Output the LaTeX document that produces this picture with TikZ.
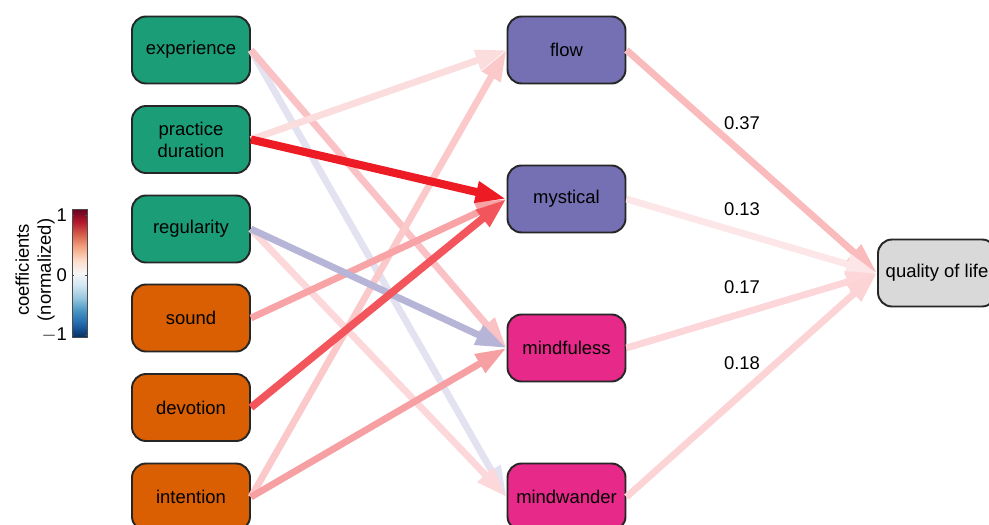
\documentclass[tikz,border=0pt]{standalone}
\usepackage{fontspec}
\setmainfont{Liberation Sans}
\usetikzlibrary{arrows.meta}

\definecolor{pracgreen}{RGB}{27,158,119}
\definecolor{ctxorange}{RGB}{217,95,2}
\definecolor{expviolet}{RGB}{117,112,179}
\definecolor{attmagenta}{RGB}{231,41,138}
\definecolor{outgray}{RGB}{217,217,217}
\definecolor{cpos}{RGB}{237,28,36}
\definecolor{cneg}{RGB}{117,112,179}
\definecolor{rdbuA}{RGB}{5,48,97}
\definecolor{rdbuB}{RGB}{33,102,172}
\definecolor{rdbuC}{RGB}{67,147,195}
\definecolor{rdbuD}{RGB}{146,197,222}
\definecolor{rdbuE}{RGB}{209,229,240}
\definecolor{rdbuF}{RGB}{247,247,247}
\definecolor{rdbuG}{RGB}{253,219,199}
\definecolor{rdbuH}{RGB}{244,165,130}
\definecolor{rdbuI}{RGB}{214,96,77}
\definecolor{rdbuJ}{RGB}{178,24,43}
\definecolor{rdbuK}{RGB}{103,0,31}
\pgfdeclareverticalshading{rdbu}{100bp}{color(0bp)=(rdbuA); color(25bp)=(rdbuA); color(30bp)=(rdbuB); color(35bp)=(rdbuC); color(40bp)=(rdbuD); color(45bp)=(rdbuE); color(50bp)=(rdbuF); color(55bp)=(rdbuG); color(60bp)=(rdbuH); color(65bp)=(rdbuI); color(70bp)=(rdbuJ); color(75bp)=(rdbuK); color(100bp)=(rdbuK)}

\begin{document}
\begin{tikzpicture}[x=0.02cm,y=-0.02cm,
  var/.style={draw=black!85,line width=1.1pt,rounded corners=0.28cm,minimum width=2.36cm,minimum height=1.34cm,align=center,inner sep=2pt,font=\fontsize{10.5}{12.5}\selectfont},
  coef/.style={line width=3.9pt,-{Triangle[length=0.62cm,width=0.4cm]}},
  weight/.style={font=\fontsize{10.5}{12}\selectfont},
  barlabel/.style={font=\fontsize{10.5}{12.5}\selectfont}]
  \useasboundingbox (0,0) rectangle (989,524);

  %colour bar
  \shade[shading=rdbu] (72,209) rectangle (87,337);
  \draw[black!70,line width=0.5pt] (72,209) rectangle (87,337);
  \foreach \ty in {215,275,335}{
    \draw[black!70,line width=0.4pt] (72,\ty) -- (74,\ty);
    \draw[black!70,line width=0.4pt] (87,\ty) -- (85,\ty);
  }
  \node[barlabel,anchor=east,inner sep=1pt] (tickhi) at (69,215) {1};
  \node[barlabel,anchor=east,inner sep=1pt] (tickmid) at (69,275) {0};
  \node[barlabel,anchor=east,inner sep=1pt] (ticklo) at (69,335) {$-$1};
  \node[barlabel,rotate=90,align=center] (bartitle) at (35,270) {coefficients\\(normalized)};

  %left
  \node[var,fill=pracgreen] (exp) at (191,50) {experience};
  \node[var,fill=pracgreen] (dur) at (191,139.5) {practice\\duration};
  \node[var,fill=pracgreen] (reg) at (191,229) {regularity};
  \node[var,fill=ctxorange] (snd) at (191,318) {sound};
  \node[var,fill=ctxorange] (dev) at (191,407.5) {devotion};
  \node[var,fill=ctxorange] (int) at (191,497) {intention};

  %middle
  \node[var,fill=expviolet] (flow) at (566.5,50) {flow};
  \node[var,fill=expviolet] (myst) at (566.5,199) {mystical};
  \node[var,fill=attmagenta] (mind) at (566.5,348) {mindfuless};
  \node[var,fill=attmagenta] (wand) at (566.5,497) {mindwander};

  %right
  \node[var,fill=outgray] (qol) at (937,273) {quality of life};

  %left to middle
  \draw[coef,draw=cneg!20,fill=cneg!20] (exp.east) -- (wand.west);
  \draw[coef,draw=cpos!17,fill=cpos!17] (reg.east) -- (wand.west);
  \draw[coef,draw=cpos!27,fill=cpos!27] (exp.east) -- (mind.west);
  \draw[coef,draw=cpos!15,fill=cpos!15] (dur.east) -- (flow.west);
  \draw[coef,draw=cpos!24,fill=cpos!24] (int.east) -- (flow.west);
  \draw[coef,draw=cpos!40,fill=cpos!40] (snd.east) -- (myst.west);
  \draw[coef,draw=cneg!52,fill=cneg!52] (reg.east) -- (mind.west);
  \draw[coef,draw=cpos!42,fill=cpos!42] (int.east) -- (mind.west);
  \draw[coef,line width=4.3pt,draw=cpos!75,fill=cpos!75] (dev.east) -- (myst.west);
  \draw[coef,line width=4.6pt,draw=cpos,fill=cpos] (dur.east) -- (myst.west);

  %middle to right
  \draw[coef,draw=cpos!30,fill=cpos!30] (flow.east) -- (qol.west);
  \draw[coef,draw=cpos!11,fill=cpos!11] (myst.east) -- (qol.west);
  \draw[coef,draw=cpos!18,fill=cpos!18] (mind.east) -- (qol.west);
  \draw[coef,draw=cpos!19,fill=cpos!19] (wand.east) -- (qol.west);
  \node[weight] (wflow) at (742,123) {0.37};
  \node[weight] (wmyst) at (742,209) {0.13};
  \node[weight] (wmind) at (742,287) {0.17};
  \node[weight] (wwand) at (742,363) {0.18};
\end{tikzpicture}
\end{document}
